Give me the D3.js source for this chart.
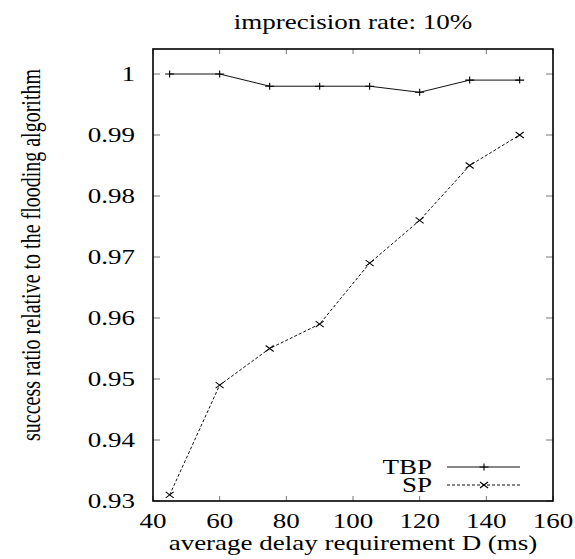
<!DOCTYPE html>
<html>
<head>
<meta charset="utf-8">
<script src="https://cdn.jsdelivr.net/npm/d3@7"></script>
<style>
  body { margin: 0; background: #fff; }
  text { font-family: "Liberation Serif", "Times New Roman", serif; fill: #000; }
</style>
</head>
<body>
<div class="drawingboard"></div>
<script>
// delay requirement D (ms) and success ratios
var delays = [45, 60, 75, 90, 105, 120, 135, 150];
var tbp = [1.000, 1.000, 0.998, 0.998, 0.998, 0.997, 0.999, 0.999];
var sp = [0.931, 0.949, 0.955, 0.959, 0.969, 0.976, 0.985, 0.990];
var xTicks = [40, 60, 80, 100, 120, 140, 160];
var yTicks = [0.93, 0.94, 0.95, 0.96, 0.97, 0.98, 0.99, 1];
var seriesNames = ["TBP", "SP"];

function init() {
    var width = 575;
    var height = 559;
    // plot frame edges
    var pl = 153, pr = 553, pt = 49, pb = 501;
    // the text is drawn wide, like the rest of the figure
    var stretch = 1.35;
    var fontSize = "20px";

    var svg = d3.select(".drawingboard")
        .append("svg")
        .attr("width", width)
        .attr("height", height);

    var x = d3.scaleLinear().domain([40, 160]).range([pl, pr]);
    var y = d3.scaleLinear().domain([0.93, 1.0041]).range([pb, pt]);

    function label(px, py, anchor, txt) {
        return svg.append("text")
            .attr("transform", "translate(" + px + "," + py + ") scale(" + stretch + ",1)")
            .attr("dy", "0.35em")
            .attr("text-anchor", anchor)
            .style("font-size", fontSize)
            .text(txt);
    }

    // ticks point inward on all four sides
    var ticks = svg.append("g").style("stroke", "#777").style("stroke-width", 1);
    xTicks.forEach(function (t) {
        ticks.append("line").attr("x1", x(t)).attr("x2", x(t)).attr("y1", pb).attr("y2", pb - 5);
        ticks.append("line").attr("x1", x(t)).attr("x2", x(t)).attr("y1", pt).attr("y2", pt + 5);
    });
    yTicks.forEach(function (t) {
        ticks.append("line").attr("x1", pl).attr("x2", pl + 7).attr("y1", y(t)).attr("y2", y(t));
        ticks.append("line").attr("x1", pr).attr("x2", pr - 7).attr("y1", y(t)).attr("y2", y(t));
    });

    xTicks.forEach(function (t) {
        label(x(t), pb + 20, "middle", t);
    });
    yTicks.forEach(function (t) {
        label(pl - 18, y(t), "end", t === 1 ? "1" : t.toFixed(2));
    });

    svg.append("rect")
        .attr("x", pl).attr("y", pt)
        .attr("width", pr - pl).attr("height", pb - pt)
        .style("fill", "none").style("stroke", "#000").style("stroke-width", 1.6);

    // series
    var line = d3.line()
        .x(function (d) { return x(d[0]); })
        .y(function (d) { return y(d[1]); });

    var tbpPts = delays.map(function (d, i) { return [d, tbp[i]]; });
    var spPts = delays.map(function (d, i) { return [d, sp[i]]; });

    function plus(g, cx, cy) {
        g.append("path")
            .attr("d", "M" + (cx - 4.5) + "," + cy + "H" + (cx + 4.5) + "M" + cx + "," + (cy - 3.5) + "V" + (cy + 3.5))
            .style("stroke", "#000").style("stroke-width", 1.1).style("fill", "none");
    }
    function cross(g, cx, cy) {
        g.append("path")
            .attr("d", "M" + (cx - 4) + "," + (cy - 3) + "L" + (cx + 4) + "," + (cy + 3) +
                       "M" + (cx - 4) + "," + (cy + 3) + "L" + (cx + 4) + "," + (cy - 3))
            .style("stroke", "#000").style("stroke-width", 1.1).style("fill", "none");
    }

    svg.append("path")
        .datum(tbpPts)
        .attr("d", line)
        .style("fill", "none").style("stroke", "#111").style("stroke-width", 1);
    var tbpMarks = svg.append("g");
    tbpPts.forEach(function (p) { plus(tbpMarks, x(p[0]), y(p[1])); });

    svg.append("path")
        .datum(spPts)
        .attr("d", line)
        .style("fill", "none").style("stroke", "#111").style("stroke-width", 1)
        .style("stroke-dasharray", "3,2");
    var spMarks = svg.append("g");
    spPts.forEach(function (p) { cross(spMarks, x(p[0]), y(p[1])); });

    // legend
    var legend = svg.append("g");
    var legY = [467, 485];
    seriesNames.forEach(function (name, i) {
        label(432, legY[i], "end", name);
        legend.append("line")
            .attr("x1", 447).attr("x2", 520).attr("y1", legY[i]).attr("y2", legY[i])
            .style("stroke", "#111").style("stroke-width", 1)
            .style("stroke-dasharray", i === 1 ? "3,2" : null);
        if (i === 0) plus(legend, 484, legY[i]); else cross(legend, 484, legY[i]);
    });

    // titles
    label((pl + pr) / 2, 22, "middle", "imprecision rate: 10%");
    label((pl + pr) / 2, 543, "middle", "average delay requirement D (ms)");

    svg.append("text")
        .attr("transform", "translate(31,255) rotate(-90) scale(1," + stretch + ")")
        .attr("dy", "0.35em")
        .attr("text-anchor", "middle")
        .style("font-size", "20px")
        .text("success ratio relative to the flooding algorithm");
}
init();
</script>
</body>
</html>
